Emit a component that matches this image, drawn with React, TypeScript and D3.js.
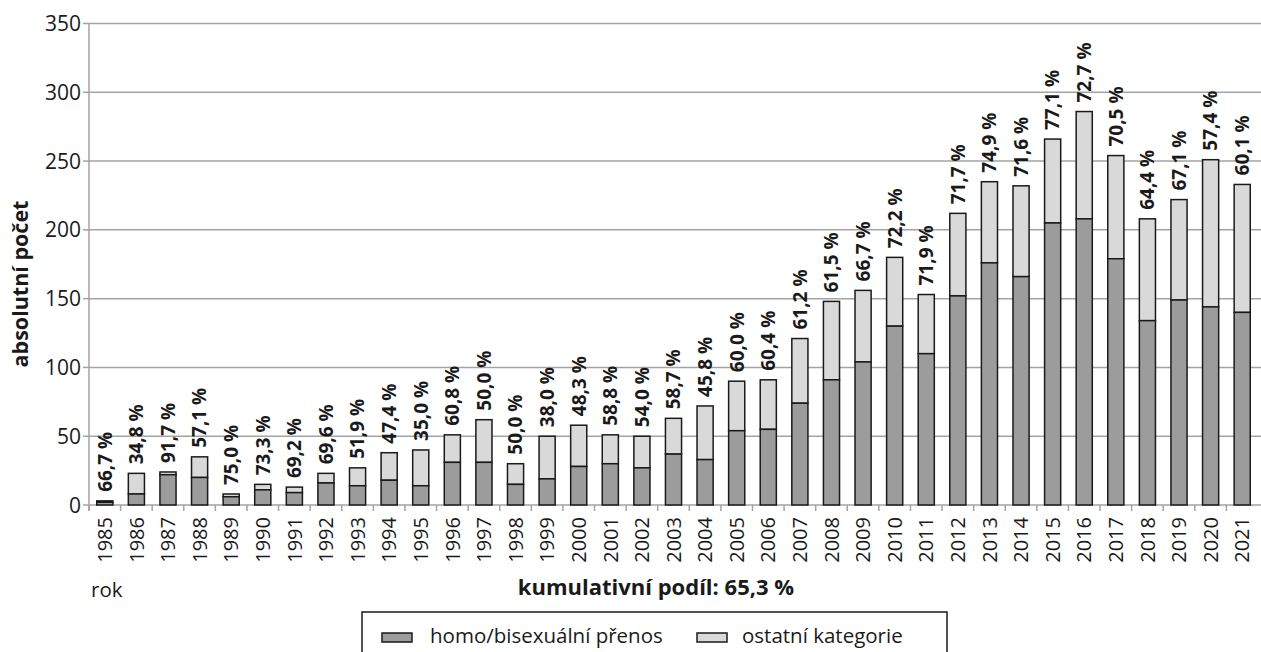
import React from "react";
import * as d3 from "d3";

// years on the x axis
const years = [
  "1985", "1986", "1987", "1988", "1989", "1990", "1991", "1992", "1993", "1994",
  "1995", "1996", "1997", "1998", "1999", "2000", "2001", "2002", "2003", "2004",
  "2005", "2006", "2007", "2008", "2009", "2010", "2011", "2012", "2013", "2014",
  "2015", "2016", "2017", "2018", "2019", "2020", "2021",
];

// homo/bisexual transmission (dark part of the bar)
const homo = [
  2, 8, 22, 20, 6, 11, 9, 16, 14, 18,
  14, 31, 31, 15, 19, 28, 30, 27, 37, 33,
  54, 55, 74, 91, 104, 130, 110, 152, 176, 166,
  205, 208, 179, 134, 149, 144, 140,
];

// all cases (top of the bar)
const totals = [
  3, 23, 24, 35, 8, 15, 13, 23, 27, 38,
  40, 51, 62, 30, 50, 58, 51, 50, 63, 72,
  90, 91, 121, 148, 156, 180, 153, 212, 235, 232,
  266, 286, 254, 208, 222, 251, 233,
];

const shareLabels = [
  "66,7 %", "34,8 %", "91,7 %", "57,1 %", "75,0 %", "73,3 %", "69,2 %", "69,6 %", "51,9 %", "47,4 %",
  "35,0 %", "60,8 %", "50,0 %", "50,0 %", "38,0 %", "48,3 %", "58,8 %", "54,0 %", "58,7 %", "45,8 %",
  "60,0 %", "60,4 %", "61,2 %", "61,5 %", "66,7 %", "72,2 %", "71,9 %", "71,7 %", "74,9 %", "71,6 %",
  "77,1 %", "72,7 %", "70,5 %", "64,4 %", "67,1 %", "57,4 %", "60,1 %",
];

const yTicks = [0, 50, 100, 150, 200, 250, 300, 350];

const legendItems = ["homo/bisexuální přenos", "ostatní kategorie"];

const W = 1261;
const H = 652;
const FONT = "'Open Sans', 'Noto Sans', sans-serif";
const DARK = "#9c9c9c";
const LIGHT = "#d9d9d9";
const GRID = "#a3a3a3";
const INK = "#1a1a1a";

export default function App() {
  const left = 89;
  const right = 1258;
  const top = 23.5;
  const bottom = 505;

  const x = d3.scaleBand<string>()
    .domain(years)
    .range([left, right])
    .paddingInner(0.49)
    .paddingOuter(0.245);

  const y = d3.scaleLinear().domain([0, 350]).range([bottom, top]);

  const step = x.step();
  const bw = x.bandwidth();

  return (
    <svg
      width={W}
      height={H}
      style={{ position: "absolute", left: 0, top: 0, fontFamily: FONT }}
    >
      <rect width={W} height={H} fill="#fff" />

      {/* grid */}
      {yTicks.filter(t => t > 0).map(t => (
        <line key={t} x1={left} x2={W} y1={y(t)} y2={y(t)} stroke={GRID} strokeWidth={1.5} />
      ))}

      {/* y axis */}
      <line x1={left} x2={left} y1={top} y2={bottom + 6} stroke={GRID} strokeWidth={1.5} />
      {yTicks.map(t => (
        <g key={t}>
          <line x1={left - 6} x2={left} y1={y(t)} y2={y(t)} stroke={GRID} strokeWidth={1.5} />
          <text x={left - 8} y={y(t)} dy="0.36em" textAnchor="end" fontSize={21} fill="#1a1a1a">
            {t}
          </text>
        </g>
      ))}

      {/* x axis */}
      <line x1={left} x2={W} y1={bottom} y2={bottom} stroke={GRID} strokeWidth={1.5} />
      {years.map((yr, i) => (
        <line key={yr} x1={left + i * step} x2={left + i * step} y1={bottom} y2={bottom + 6}
          stroke={GRID} strokeWidth={1.5} />
      ))}

      {/* bars */}
      {years.map((yr, i) => {
        const x0 = x(yr)!;
        return (
          <g key={yr}>
            <rect x={x0} y={y(totals[i])} width={bw} height={y(homo[i]) - y(totals[i])}
              fill={LIGHT} stroke={INK} strokeWidth={1.5} />
            <rect x={x0} y={y(homo[i])} width={bw} height={bottom - y(homo[i])}
              fill={DARK} stroke={INK} strokeWidth={1.5} />
          </g>
        );
      })}

      {/* share labels */}
      {years.map((yr, i) => {
        const cx = x(yr)! + bw / 2;
        const ty = y(totals[i]) - 9;
        return (
          <text key={yr} transform={`translate(${cx},${ty}) rotate(-90)`} dy="0.36em"
            fontSize={19} fontWeight="bold" fill="#1a1a1a">
            {shareLabels[i]}
          </text>
        );
      })}

      {/* year labels */}
      {years.map(yr => {
        const cx = x(yr)! + bw / 2;
        return (
          <text key={yr} transform={`translate(${cx},${bottom + 12}) rotate(-90)`} dy="0.36em"
            textAnchor="end" fontSize={20} fill="#1a1a1a">
            {yr}
          </text>
        );
      })}

      {/* axis titles */}
      <text transform={`translate(20,284) rotate(-90)`} dy="0.36em" textAnchor="middle"
        fontSize={21.5} fontWeight="bold" fill="#1a1a1a">
        absolutní počet
      </text>
      <text x={91} y={597} fontSize={20.5} fill="#1a1a1a">rok</text>
      <text x={656} y={595} textAnchor="middle" fontSize={22} fontWeight="bold" fill="#1a1a1a">
        kumulativní podíl: 65,3 %
      </text>

      {/* legend */}
      <rect x={362} y={612} width={585} height={60} fill="#fff" stroke={INK} strokeWidth={1.5} />
      {legendItems.map((label, i) => {
        const lx = i === 0 ? 382 : 697;
        return (
          <g key={label}>
            <rect x={lx} y={633} width={30} height={9} fill={i === 0 ? DARK : LIGHT}
              stroke={INK} strokeWidth={1.5} />
            <text x={lx + (i === 0 ? 48 : 45)} y={643} fontSize={20.5} fill="#1a1a1a">{label}</text>
          </g>
        );
      })}
    </svg>
  );
}
